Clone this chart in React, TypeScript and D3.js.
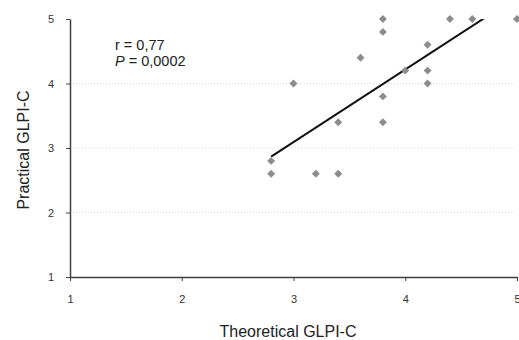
import { useEffect, useRef } from 'react';
import * as d3 from 'd3';

const theoretical = [2.8, 2.8, 3.0, 3.2, 3.4, 3.4, 3.6, 3.8, 3.8, 3.8, 3.8, 4.0, 4.2, 4.2, 4.2, 4.4, 4.6, 5.0];
const practical = [2.8, 2.6, 4.0, 2.6, 2.6, 3.4, 4.4, 5.0, 4.8, 3.8, 3.4, 4.2, 4.6, 4.2, 4.0, 5.0, 5.0, 5.0];
const ticks = [1, 2, 3, 4, 5];
const statLines = ['r = 0,77', '0,0002'];

const W = 519;
const H = 340;

const App = () => {
  const svgRef = useRef<SVGSVGElement>(null);

  useEffect(() => {
    const svg = d3.select(svgRef.current);
    svg.selectAll('*').remove();

    const left = 70, right = 517, top = 19, bottom = 277;
    const x = d3.scaleLinear().domain([1, 5]).range([left, right]);
    const y = d3.scaleLinear().domain([1, 5]).range([bottom, top]);
    const font = 'Liberation Sans, Arial, sans-serif';

    svg.append('defs').append('clipPath').attr('id', 'plot')
      .append('rect').attr('x', left).attr('y', top).attr('width', right - left).attr('height', bottom - top);

    // grid
    svg.append('g').selectAll('line').data(ticks.slice(1, 4)).enter().append('line')
      .attr('x1', left).attr('x2', right)
      .attr('y1', d => y(d)).attr('y2', d => y(d))
      .attr('stroke', '#d8d8d8').attr('stroke-dasharray', '1,2');

    // axes
    const yAxis = svg.append('g').attr('transform', `translate(${left},0)`)
      .call(d3.axisLeft(y).tickValues(ticks).tickSize(4).tickSizeOuter(0).tickFormat(d3.format('d')));
    const xAxis = svg.append('g').attr('transform', `translate(0,${bottom})`)
      .call(d3.axisBottom(x).tickValues(ticks).tickSize(4).tickSizeOuter(0).tickFormat(d3.format('d')));
    [yAxis, xAxis].forEach(a => {
      a.select('.domain').attr('stroke', '#404040').attr('stroke-width', 1.5);
      a.selectAll('.tick line').attr('stroke', '#404040');
      a.selectAll('.tick text').attr('font-family', font).attr('font-size', 11).attr('fill', '#333');
    });
    yAxis.selectAll('.tick text').attr('x', -16);
    xAxis.selectAll('.tick text').attr('y', 18);

    // regression line
    const mx = d3.mean(theoretical) as number;
    const my = d3.mean(practical) as number;
    const sxy = d3.sum(theoretical, (v, i) => (v - mx) * (practical[i] - my));
    const sxx = d3.sum(theoretical, v => (v - mx) ** 2);
    const slope = sxy / sxx;
    const icpt = my - slope * mx;
    const [x0, x1] = d3.extent(theoretical) as [number, number];
    svg.append('line').attr('clip-path', 'url(#plot)')
      .attr('x1', x(x0)).attr('y1', y(icpt + slope * x0))
      .attr('x2', x(x1)).attr('y2', y(icpt + slope * x1))
      .attr('stroke', '#111').attr('stroke-width', 2);

    // points
    const diamond = d3.symbol().type(d3.symbolDiamond2).size(40);
    svg.append('g').selectAll('path').data(theoretical).enter().append('path')
      .attr('d', diamond)
      .attr('transform', (d, i) => `translate(${x(d)},${y(practical[i])})`)
      .attr('fill', '#8c8c8c');

    // stats
    svg.append('text').attr('x', 115).attr('y', 50)
      .attr('font-family', font).attr('font-size', 14.5).attr('fill', '#222')
      .text(statLines[0]);
    const p = svg.append('text').attr('x', 115).attr('y', 66)
      .attr('font-family', font).attr('font-size', 14.5).attr('fill', '#222');
    p.append('tspan').attr('font-style', 'italic').text('P');
    p.append('tspan').text(` = ${statLines[1]}`);

    // titles
    svg.append('text').attr('x', 288).attr('y', 337)
      .attr('text-anchor', 'middle').attr('font-family', font).attr('font-size', 16).attr('fill', '#222')
      .text('Theoretical GLPI-C');
    svg.append('text').attr('transform', `translate(29,150) rotate(-90)`)
      .attr('text-anchor', 'middle').attr('font-family', font).attr('font-size', 16).attr('fill', '#222')
      .text('Practical GLPI-C');
  }, []);

  return <svg ref={svgRef} width={W} height={H} style={{ position: 'absolute', left: 0, top: 0, background: '#fff' }} />;
};

export default App;
